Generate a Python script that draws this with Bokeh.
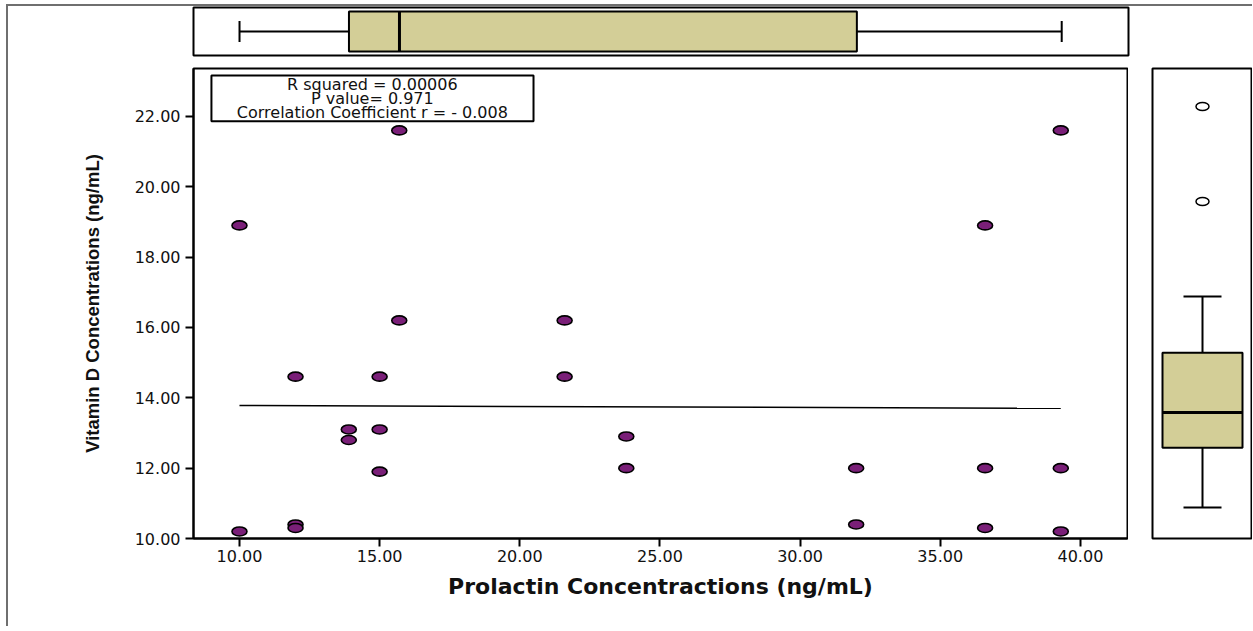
from bokeh.plotting import figure
from bokeh.layouts import column, row
from bokeh.models import Range1d, Label, FixedTicker, PrintfTickFormatter, BoxAnnotation
from bokeh.embed import file_html
from bokeh.resources import INLINE

# ---------------- data ----------------
prolactin = [10.0, 10.0, 12.0, 12.0, 12.0, 13.9, 13.9, 15.0, 15.0, 15.0, 15.7, 15.7,
             21.6, 21.6, 23.8, 23.8, 32.0, 32.0, 36.6, 36.6, 36.6, 39.3, 39.3, 39.3]
vitamin_d = [18.9, 10.2, 10.4, 10.3, 14.6, 13.1, 12.8, 14.6, 13.1, 11.9, 21.6, 16.2,
             16.2, 14.6, 12.9, 12.0, 12.0, 10.4, 18.9, 12.0, 10.3, 21.6, 12.0, 10.2]
fit_x = [10.0, 39.3]
fit_y = [13.78, 13.70]
x_ticks = [10, 15, 20, 25, 30, 35, 40]
y_ticks = [10, 12, 14, 16, 18, 20, 22]
# box plot statistics: whisker low, Q1, median, Q3, whisker high
prl_stats = [10.0, 13.9, 15.7, 32.0, 39.3]
vitd_stats = [10.2, 11.9, 12.9, 14.6, 16.2]
vitd_outliers = [18.9, 21.6]
stats_lines = ["R squared = 0.00006", "P value= 0.971", "Correlation Coefficient r = - 0.008"]

x_title = "Prolactin Concentractions (ng/mL)"
y_title = "Vitamin D Concentrations (ng/mL)"

BOX_FILL = "#d3ce97"
PT_FILL = "#7a1f78"

x_range = Range1d(8.36, 41.68)
y_range = Range1d(10.0, 23.36)
side_y_range = Range1d(9.32, 22.68)

# ---------------- main scatter ----------------
main = figure(frame_width=934, frame_height=470, x_range=x_range, y_range=y_range,
              output_backend="svg", toolbar_location=None,
              min_border_left=185, min_border_right=1, min_border_top=1, min_border_bottom=88)
main.grid.visible = False
main.outline_line_color = "black"
main.outline_line_width = 2
main.background_fill_color = "white"
main.border_fill_color = "white"

for ax in (main.xaxis[0], main.yaxis[0]):
    ax.axis_line_width = 2
    ax.axis_line_color = "black"
    ax.major_tick_line_width = 2
    ax.major_tick_line_color = "black"
    ax.major_tick_in = 0
    ax.major_tick_out = 8
    ax.minor_tick_line_color = None
    ax.formatter = PrintfTickFormatter(format="%.2f")
    ax.major_label_text_font = "DejaVu Sans"
    ax.major_label_text_font_size = "16px"
    ax.major_label_text_color = "#111111"
    ax.axis_label_text_font_style = "bold"
    ax.axis_label_text_color = "#111111"

main.xaxis.ticker = FixedTicker(ticks=x_ticks)
main.yaxis.ticker = FixedTicker(ticks=y_ticks)
main.xaxis.axis_label = x_title
main.xaxis.axis_label_text_font = "DejaVu Sans"
main.xaxis.axis_label_text_font_size = "22px"
main.xaxis.major_label_standoff = 3
main.xaxis.axis_label_standoff = 9
main.yaxis.axis_label = y_title
main.yaxis.axis_label_text_font = "Liberation Sans"
main.yaxis.axis_label_text_font_size = "18.5px"
main.yaxis.major_label_standoff = 5
main.yaxis.axis_label_standoff = 29

main.line(fit_x, fit_y, line_color="black", line_width=1.5)
main.ellipse(x=prolactin, y=vitamin_d, width=15, height=9,
             width_units="screen", height_units="screen",
             fill_color=PT_FILL, line_color="black", line_width=1.6)

box = BoxAnnotation(left=9.0, right=20.49, top=23.16, bottom=21.86,
                    fill_color="white", fill_alpha=1.0,
                    line_color="black", line_alpha=1.0, line_width=2)
main.add_layout(box)
line_y = [22.91, 22.51, 22.11]
for txt, yy in zip(stats_lines, line_y):
    main.add_layout(Label(x=14.74, y=yy, text=txt, text_align="center",
                          text_baseline="middle", text_font="DejaVu Sans",
                          text_font_size="16px", text_color="#111111"))

# ---------------- top box plot (prolactin) ----------------
top = figure(frame_width=935, frame_height=48, x_range=x_range, y_range=Range1d(0, 1),
             x_axis_type=None, y_axis_type=None,
             output_backend="svg", toolbar_location=None,
             min_border_left=185, min_border_right=2, min_border_top=1, min_border_bottom=12)
top.grid.visible = False
top.outline_line_color = "black"
top.outline_line_width = 2
lo, q1, med, q3, hi = prl_stats
top.segment(x0=[lo, q3], y0=[0.5, 0.5], x1=[q1, hi], y1=[0.5, 0.5],
            line_color="black", line_width=2)
top.segment(x0=[lo, hi], y0=[0.28, 0.28], x1=[lo, hi], y1=[0.72, 0.72],
            line_color="black", line_width=2)
top.quad(left=[q1], right=[q3], bottom=[0.083], top=[0.917],
         fill_color=BOX_FILL, line_color="black", line_width=2)
top.segment(x0=[med], y0=[0.083], x1=[med], y1=[0.917], line_color="black", line_width=3)

# ---------------- side box plot (vitamin D) ----------------
side = figure(frame_width=100, frame_height=470, x_range=Range1d(0, 1), y_range=side_y_range,
              x_axis_type=None, y_axis_type=None,
              output_backend="svg", toolbar_location=None,
              min_border_left=24, min_border_right=0, min_border_top=1, min_border_bottom=88)
side.grid.visible = False
side.outline_line_color = "black"
side.outline_line_width = 2
lo, q1, med, q3, hi = vitd_stats
side.segment(x0=[0.5, 0.5], y0=[q3, q1], x1=[0.5, 0.5], y1=[hi, lo],
             line_color="black", line_width=2)
side.segment(x0=[0.31, 0.31], y0=[hi, lo], x1=[0.69, 0.69], y1=[hi, lo],
             line_color="black", line_width=2)
side.quad(left=[0.1], right=[0.9], bottom=[q1], top=[q3],
          fill_color=BOX_FILL, line_color="black", line_width=2)
side.segment(x0=[0.1], y0=[med], x1=[0.9], y1=[med], line_color="black", line_width=3)
side.ellipse(x=[0.5] * len(vitd_outliers), y=vitd_outliers, width=13, height=8,
             width_units="screen", height_units="screen",
             fill_color="white", line_color="black", line_width=1.5)

layout = column(top, row(main, side), margin=(4, 0, 0, 6),
                styles={"border-top": "2px solid #6f6f6f", "border-left": "2px solid #6f6f6f",
                        "background-color": "white"})

open("out.html", "w").write(file_html(layout, INLINE))
